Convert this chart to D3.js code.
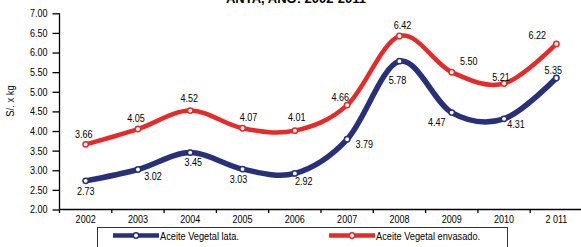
<!DOCTYPE html>
<html>
<head>
<meta charset="utf-8">
<script src="https://cdn.jsdelivr.net/npm/d3@7"></script>
<style>
html,body{margin:0;padding:0;background:#fff;}
svg{display:block;font-family:"Liberation Sans",Arial,sans-serif;}
</style>
</head>
<body>
<svg id="chart" width="581" height="247"></svg>
<script>
const years = ["2002","2003","2004","2005","2006","2007","2008","2009","2010","2 011"];
const lata = [2.73,3.02,3.45,3.03,2.92,3.79,5.78,4.47,4.31,5.35];
const envasado = [3.66,4.05,4.52,4.07,4.01,4.66,6.42,5.50,5.21,6.22];
const yTicks = [2,2.5,3,3.5,4,4.5,5,5.5,6,6.5,7];
const seriesNames = ["Aceite Vegetal lata.","Aceite Vegetal envasado."];
const title = "ANTA, AÑO: 2002-2011";
const yTitle = "S/. x kg";

// label placement (offsets of label centre from its point)
const lataLabelDx = [0,15,3,-4,9,17,-2,-15,12,-3];
const lataLabelDy = [10,7,10,10,8,5,19,10,5,-8];
const envLabelDx = [-2,-2,-1,6,2,-7,3,17,-3,-19];
const envLabelDy = [-10,-11,-12,-11,-13,-8,-11,-11,-6,-9];

const svg = d3.select("#chart");
const blue = "#28307a", red = "#e62a2a";
const mLeft = 59.5, mRight = 582.5, mTop = 13.3, mBottom = 209.5;
const SX = 0.86; // narrow the text horizontally (reference uses a narrow face)

function squeeze(sel, sx){
  sel.each(function(){
    const t = d3.select(this);
    const x0 = +t.attr("x") || 0, y0 = +t.attr("y") || 0;
    t.attr("x",0).attr("y",0).attr("transform",`translate(${x0},${y0}) scale(${sx},1)`);
  });
}

const x = d3.scaleBand().domain(years).range([mLeft, mRight]).padding(0);
const y = d3.scaleLinear().domain([2,7]).range([mBottom, mTop]);
const cx = d => x(d) + x.bandwidth()/2;

// title (partly cut at top, as in the reference)
svg.append("text").attr("x",296).attr("y",3).attr("text-anchor","middle")
  .attr("font-weight","bold").attr("font-size",13).attr("fill","#000").text(title);

// y axis
const yAxis = svg.append("g").attr("transform",`translate(${mLeft},0)`)
  .call(d3.axisLeft(y).tickValues(yTicks).tickFormat(d3.format(".2f")).tickSize(7).tickPadding(5));
yAxis.select(".domain").attr("stroke","#000").attr("stroke-width",1.3).attr("d",`M0,${mTop}V${mBottom}`);
yAxis.selectAll(".tick line").attr("stroke","#000").attr("stroke-width",1.3);
yAxis.selectAll("text").attr("font-size",10.5).attr("fill","#000").call(squeeze, SX);

// y title
svg.append("text").attr("transform",`translate(14,101) rotate(-90) scale(${SX},1)`).attr("text-anchor","middle")
  .attr("font-size",11).attr("fill","#000").text(yTitle);

// x axis
const xAxis = svg.append("g").attr("transform",`translate(0,${mBottom})`)
  .call(d3.axisBottom(x).tickSize(0).tickPadding(6));
xAxis.select(".domain").attr("stroke","#000").attr("stroke-width",1.3).attr("d",`M${mLeft},0H581`);
xAxis.selectAll("text").attr("font-size",10.5).attr("fill","#000").call(squeeze, SX);
xAxis.selectAll(".bt").data(years).enter().append("line").attr("class","bt")
  .attr("x1",d=>x(d)).attr("x2",d=>x(d)).attr("y1",0).attr("y2",3.5)
  .attr("stroke","#000").attr("stroke-width",1.3);

const line = d3.line().x((d,i)=>cx(years[i])).y(d=>y(d)).curve(d3.curveCardinal.tension(0));

function drawSeries(vals, color, width, dxs, dys){
  const g = svg.append("g");
  g.append("path").datum(vals).attr("d",line).attr("fill","none")
    .attr("stroke",color).attr("stroke-width",width).attr("stroke-linecap","round");
  g.selectAll("circle").data(vals).enter().append("circle")
    .attr("cx",(d,i)=>cx(years[i])).attr("cy",d=>y(d)).attr("r",2.7)
    .attr("fill","#fff").attr("stroke",color).attr("stroke-width",1.5);
  g.selectAll("text").data(vals).enter().append("text")
    .attr("x",(d,i)=>cx(years[i])+dxs[i]).attr("y",(d,i)=>y(d)+dys[i]+3.8)
    .attr("text-anchor","middle").attr("font-size",10.5).attr("fill","#000")
    .text(d=>d3.format(".2f")(d)).call(squeeze, SX);
}
drawSeries(lata, blue, 5.5, lataLabelDx, lataLabelDy);
drawSeries(envasado, red, 4.5, envLabelDx, envLabelDy);

// legend
const lg = svg.append("g");
lg.append("rect").attr("x",97.5).attr("y",227.5).attr("width",410).attr("height",40)
  .attr("fill","#fff").attr("stroke","#333").attr("stroke-width",1);
const legendItems = [{name:seriesNames[0],color:blue,x0:113},{name:seriesNames[1],color:red,x0:329}];
legendItems.forEach(it=>{
  lg.append("line").attr("x1",it.x0).attr("x2",it.x0+46).attr("y1",235.5).attr("y2",235.5)
    .attr("stroke",it.color).attr("stroke-width",4.5);
  lg.append("circle").attr("cx",it.x0+23).attr("cy",235.5).attr("r",2.7)
    .attr("fill","#fff").attr("stroke",it.color).attr("stroke-width",1.5);
  lg.append("text").attr("x",it.x0+47).attr("y",239.5).attr("font-size",11).attr("fill","#000")
    .text(it.name).call(squeeze, 0.84);
});
</script>
</body>
</html>
